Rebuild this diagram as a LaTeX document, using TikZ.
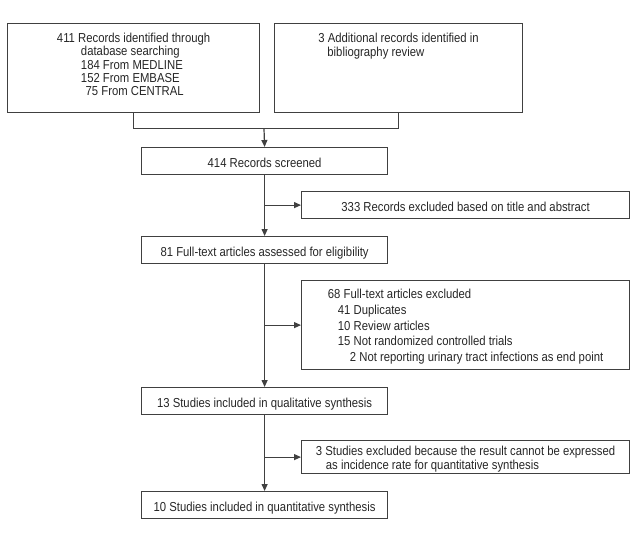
\documentclass[tikz,border=0pt]{standalone}
\usepackage{fontspec}
\setmainfont{Liberation Sans}[FakeStretch=0.87]
\usetikzlibrary{arrows.meta}
\definecolor{ink}{HTML}{262626}
\definecolor{edge}{HTML}{404040}
\begin{document}
\begin{tikzpicture}[x=1pt,y=-1pt,
every node/.style={font=\fontsize{13}{13.4}\selectfont,text=ink},
box/.style={%
draw=edge,
line width=1.2pt,
anchor=north west,
align=left,
inner sep=0pt,
text height=19.5pt,
text depth=7.5pt
},
main/.style={%
box,
minimum width=246pt
},
excl/.style={%
box,
minimum width=328pt
},
line/.style={%
draw=edge,
line width=1.2pt
},
arr/.style={%
line,
-{Triangle[length=7pt,width=6pt]}
}]
\useasboundingbox (0,0) rectangle (641,533);
\node[box,minimum width=252pt,text height=72.3pt,text depth=16.7pt](rA)at(7,23){411 Records identified through\\\hspace*{24pt}database searching\\\hspace*{24pt}184 From MEDLINE\\\hspace*{24pt}152 From EMBASE\\\hspace*{28.7pt}75 From CENTRAL};
\node[box,minimum width=248pt,text height=32.4pt,text depth=56.6pt](rB)at(274,23){3 Additional records identified in\\\hspace*{9pt}bibliography review};
\node[main](screen)at(141,147){414 Records screened};
\node[excl](ex1)at(301,191){333 Records excluded based on title and abstract};
\node[main](full)at(141,236){81 Full-text articles assessed for eligibility};
\node[excl,font=\fontsize{13}{15.7}\selectfont,text height=80.8pt,text depth=8.2pt](ex2)at(301,280){68 Full-text articles excluded\\\hspace*{10pt}41 Duplicates\\\hspace*{10pt}10 Review articles\\\hspace*{10pt}15 Not randomized controlled trials\\\hspace*{22pt}2 Not reporting urinary tract infections as end point};
\node[main](qual)at(141,387){13 Studies included in qualitative synthesis};
\node[excl,font=\fontsize{13}{14}\selectfont,text height=28.5pt,text depth=4.5pt](ex3)at(301,440){3 Studies excluded because the result cannot be expressed\\\hspace*{10pt}as incidence rate for quantitative synthesis};
\node[main](quant)at(141,491){10 Studies included in quantitative synthesis};
% connectors
\coordinate(mrg)at(264,128.5);
\draw[line] (rA.south) |- (mrg) -| (rB.south);
\draw[arr] (mrg) -- (screen.north);
\draw[arr] (screen.south) -- (full.north);
\draw[arr] (screen.south|-ex1.west) -- (ex1.west);
\draw[arr] (full.south) -- (qual.north);
\draw[arr] (full.south|-ex2.west) -- (ex2.west);
\draw[arr] (qual.south) -- (quant.north);
\draw[arr] (qual.south|-ex3.west) -- (ex3.west);
\end{tikzpicture}
\end{document}
